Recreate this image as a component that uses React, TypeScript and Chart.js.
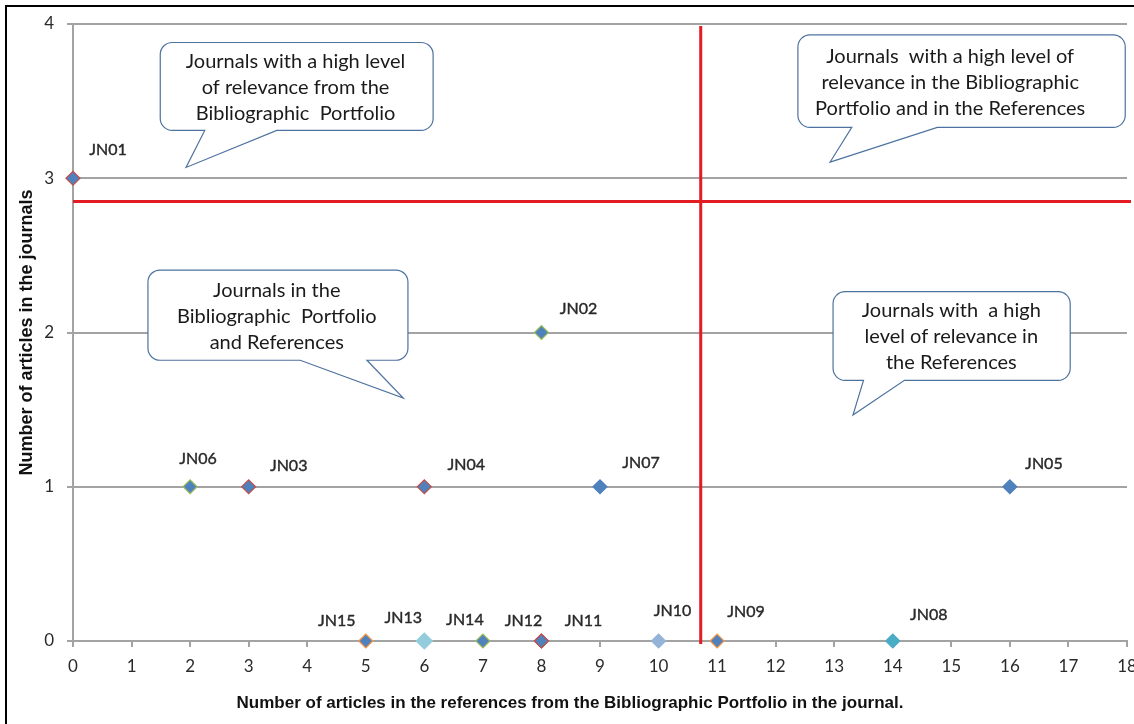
import React, { useEffect, useRef } from 'react';
import { Chart, registerables } from 'chart.js';

Chart.register(...registerables);

// ---- data ----
const journals = ['JN01', 'JN02', 'JN03', 'JN04', 'JN05', 'JN06', 'JN07', 'JN08', 'JN09', 'JN10', 'JN11', 'JN12', 'JN13', 'JN14', 'JN15'];
const referenceArticles = [0, 8, 3, 6, 16, 2, 9, 14, 11, 10, 8, 8, 6, 7, 5];
const journalArticles = [3, 2, 1, 1, 1, 1, 1, 0, 0, 0, 0, 0, 0, 0, 0];

const xAxisMin = 0;
const xAxisMax = 18;
const yAxisMin = 0;
const yAxisMax = 4;

const referenceThreshold = 10.72;
const articleThreshold = 2.85;

const xAxisTitle = 'Number of articles in the references from the Bibliographic Portfolio in the journal.';
const yAxisTitle = 'Number of articles in the journals';

const calloutTexts = [
  ['Journals with a high level', 'of relevance from the', 'Bibliographic  Portfolio'],
  ['Journals  with a high level of', 'relevance in the Bibliographic', 'Portfolio and in the References'],
  ['Journals in the', 'Bibliographic  Portfolio', 'and References'],
  ['Journals with  a high', 'level of relevance in', 'the References'],
];

// ---- styles / layout (not data) ----
const BLUE = '#4F81BD';
const RED = '#C0504D';
const GREEN = '#9BBB59';
const ORANGE = '#F79646';
const TEAL = '#4BACC6';
const CYAN = '#93CDDD';
const LAVENDER = '#95B3D7';

const pointFill = [BLUE, BLUE, BLUE, BLUE, BLUE, BLUE, BLUE, TEAL, BLUE, LAVENDER, BLUE, BLUE, CYAN, BLUE, BLUE];
const pointBorder = [RED, GREEN, RED, RED, BLUE, GREEN, BLUE, TEAL, ORANGE, LAVENDER, RED, RED, CYAN, GREEN, ORANGE];
const pointSize = [7, 7, 7, 7, 7, 7, 7, 7, 7, 7, 7, 7, 8, 7, 7];

// label offsets in px from the marker centre
const labelOffsets: [number, number][] = [
  [35, -28], [37, -24], [40, -21], [42, -22], [34, -23], [8, -28], [41, -24],
  [36, -26], [29, -29], [14, -30], [42, -20], [-18, -20], [-21, -23], [-18, -21], [-29, -20],
];

// callout geometry, in axis units
const calloutShapes = [
  { x0: 1.49, x1: 6.15, y0: 3.31, y1: 3.88, b0: 2.25, b1: 3.48, tx: 1.93, ty: 3.07, textX: 3.8 },
  { x0: 12.38, x1: 17.97, y0: 3.33, y1: 3.93, b0: 13.3, b1: 14.76, tx: 12.93, ty: 3.105, textX: 14.98 },
  { x0: 1.28, x1: 5.72, y0: 1.82, y1: 2.405, b0: 3.88, b1: 5.02, tx: 5.64, ty: 1.575, textX: 3.48 },
  { x0: 12.98, x1: 17.03, y0: 1.69, y1: 2.265, b0: 13.5, b1: 14.2, tx: 13.32, ty: 1.465, textX: 15.0 },
];

const GRID = '#A3A3A3';
const TEXT = '#2a2a2a';

function drawCallout(ctx: CanvasRenderingContext2D, xs: any, ys: any, s: any, lines: string[]) {
  const L = xs.getPixelForValue(s.x0);
  const R = xs.getPixelForValue(s.x1);
  const T = ys.getPixelForValue(s.y1);
  const B = ys.getPixelForValue(s.y0);
  const bl = xs.getPixelForValue(s.b0);
  const br = xs.getPixelForValue(s.b1);
  const tx = xs.getPixelForValue(s.tx);
  const ty = ys.getPixelForValue(s.ty);
  const r = 12;
  ctx.beginPath();
  ctx.moveTo(L + r, T);
  ctx.lineTo(R - r, T);
  ctx.arcTo(R, T, R, T + r, r);
  ctx.lineTo(R, B - r);
  ctx.arcTo(R, B, R - r, B, r);
  ctx.lineTo(br, B);
  ctx.lineTo(tx, ty);
  ctx.lineTo(bl, B);
  ctx.lineTo(L + r, B);
  ctx.arcTo(L, B, L, B - r, r);
  ctx.lineTo(L, T + r);
  ctx.arcTo(L, T, L + r, T, r);
  ctx.closePath();
  ctx.fillStyle = '#ffffff';
  ctx.fill();
  ctx.strokeStyle = '#4E72A0';
  ctx.lineWidth = 1.2;
  ctx.stroke();

  ctx.fillStyle = '#1a1a1a';
  ctx.font = '20px Lato';
  ctx.textAlign = 'center';
  ctx.textBaseline = 'middle';
  const cx = xs.getPixelForValue(s.textX);
  const cy = (T + B) / 2 + 1;
  const lh = 26;
  lines.forEach((t, i) => {
    ctx.fillText(t, cx, cy + (i - (lines.length - 1) / 2) * lh);
  });
}

const overlayPlugin = {
  id: 'overlay',
  beforeDatasetsDraw(chart: any) {
    const { ctx, chartArea, scales } = chart;
    const xs = scales.x;
    const ys = scales.y;
    ctx.save();
    calloutShapes.forEach((s, i) => drawCallout(ctx, xs, ys, s, calloutTexts[i]));

    ctx.strokeStyle = '#E31B23';
    ctx.lineWidth = 3;
    const vx = xs.getPixelForValue(referenceThreshold);
    ctx.beginPath();
    ctx.moveTo(vx, chartArea.top + 2);
    ctx.lineTo(vx, chartArea.bottom + 3);
    ctx.stroke();
    const hy = ys.getPixelForValue(articleThreshold);
    ctx.beginPath();
    ctx.moveTo(chartArea.left, hy);
    ctx.lineTo(chartArea.right + 4, hy);
    ctx.stroke();
    ctx.restore();
  },
  afterDatasetsDraw(chart: any) {
    const { ctx } = chart;
    const meta = chart.getDatasetMeta(0);
    ctx.save();
    ctx.font = '16px Lato';
    ctx.fillStyle = TEXT;
    ctx.strokeStyle = TEXT;
    ctx.lineWidth = 0.4;
    ctx.textAlign = 'center';
    ctx.textBaseline = 'middle';
    meta.data.forEach((pt: any, i: number) => {
      const [dx, dy] = labelOffsets[i];
      ctx.fillText(journals[i], pt.x + dx, pt.y + dy);
      ctx.strokeText(journals[i], pt.x + dx, pt.y + dy);
    });
    ctx.restore();
  },
  afterDraw(chart: any) {
    const { ctx, chartArea } = chart;
    ctx.save();
    ctx.fillStyle = '#111';
    ctx.font = 'bold 17px "Liberation Sans", Arial, sans-serif';
    ctx.textAlign = 'center';
    ctx.textBaseline = 'middle';
    ctx.fillText(xAxisTitle, 570, 703);
    ctx.font = 'bold 18px "Liberation Sans", Arial, sans-serif';
    ctx.translate(27, (chartArea.top + chartArea.bottom) / 2);
    ctx.rotate(-Math.PI / 2);
    ctx.fillText(yAxisTitle, 0, 0);
    ctx.restore();
    // outer frame
    ctx.save();
    ctx.fillStyle = '#000';
    ctx.fillRect(5, 5, chart.width - 5, 2);
    ctx.fillRect(5, 5, 2, chart.height - 5);
    ctx.restore();
  },
};

export default function App() {
  const ref = useRef<HTMLCanvasElement>(null);
  useEffect(() => {
    if (!ref.current) return;
    const points = referenceArticles.map((v, i) => ({ x: v, y: journalArticles[i] }));
    const chart = new Chart(ref.current, {
      type: 'scatter',
      data: {
        datasets: [
          {
            data: points,
            clip: false,
            pointStyle: 'rectRot',
            pointRadius: pointSize,
            pointHoverRadius: pointSize,
            backgroundColor: pointFill,
            borderColor: pointBorder,
            pointBackgroundColor: pointFill,
            pointBorderColor: pointBorder,
            pointBorderWidth: 1.2,
          } as any,
        ],
      },
      options: {
        animation: false,
        responsive: false,
        events: [],
        layout: { padding: { top: 24, right: 7, left: 0, bottom: 0 }, autoPadding: false } as any,
        plugins: { legend: { display: false }, tooltip: { enabled: false } },
        scales: {
          x: {
            type: 'linear',
            min: xAxisMin,
            max: xAxisMax,
            ticks: { stepSize: 1, color: TEXT, font: { family: 'Lato', size: 17 }, padding: 9, maxRotation: 0, autoSkip: false },
            grid: { drawOnChartArea: false, drawTicks: true, tickLength: 6, color: GRID, lineWidth: 2 },
            border: { display: true, color: GRID, width: 2 },
            afterFit: (s: any) => { s.height = 83; s.paddingLeft = 0; s.paddingRight = 0; },
          },
          y: {
            type: 'linear',
            min: yAxisMin,
            max: yAxisMax,
            ticks: { stepSize: 1, color: TEXT, font: { family: 'Lato', size: 17 }, padding: 13 },
            grid: { drawOnChartArea: true, drawTicks: true, tickLength: 6, color: GRID, lineWidth: 2 },
            border: { display: true, color: GRID, width: 2 },
            afterFit: (s: any) => { s.width = 73; s.paddingTop = 0; s.paddingBottom = 0; },
          },
        },
      },
      plugins: [overlayPlugin],
    });
    return () => chart.destroy();
  }, []);
  return (
    <div style={{ position: 'fixed', left: 0, top: 0, width: 1134, height: 724, background: '#fff' }}>
      <canvas ref={ref} width={1134} height={724} style={{ display: 'block' }} />
    </div>
  );
}
